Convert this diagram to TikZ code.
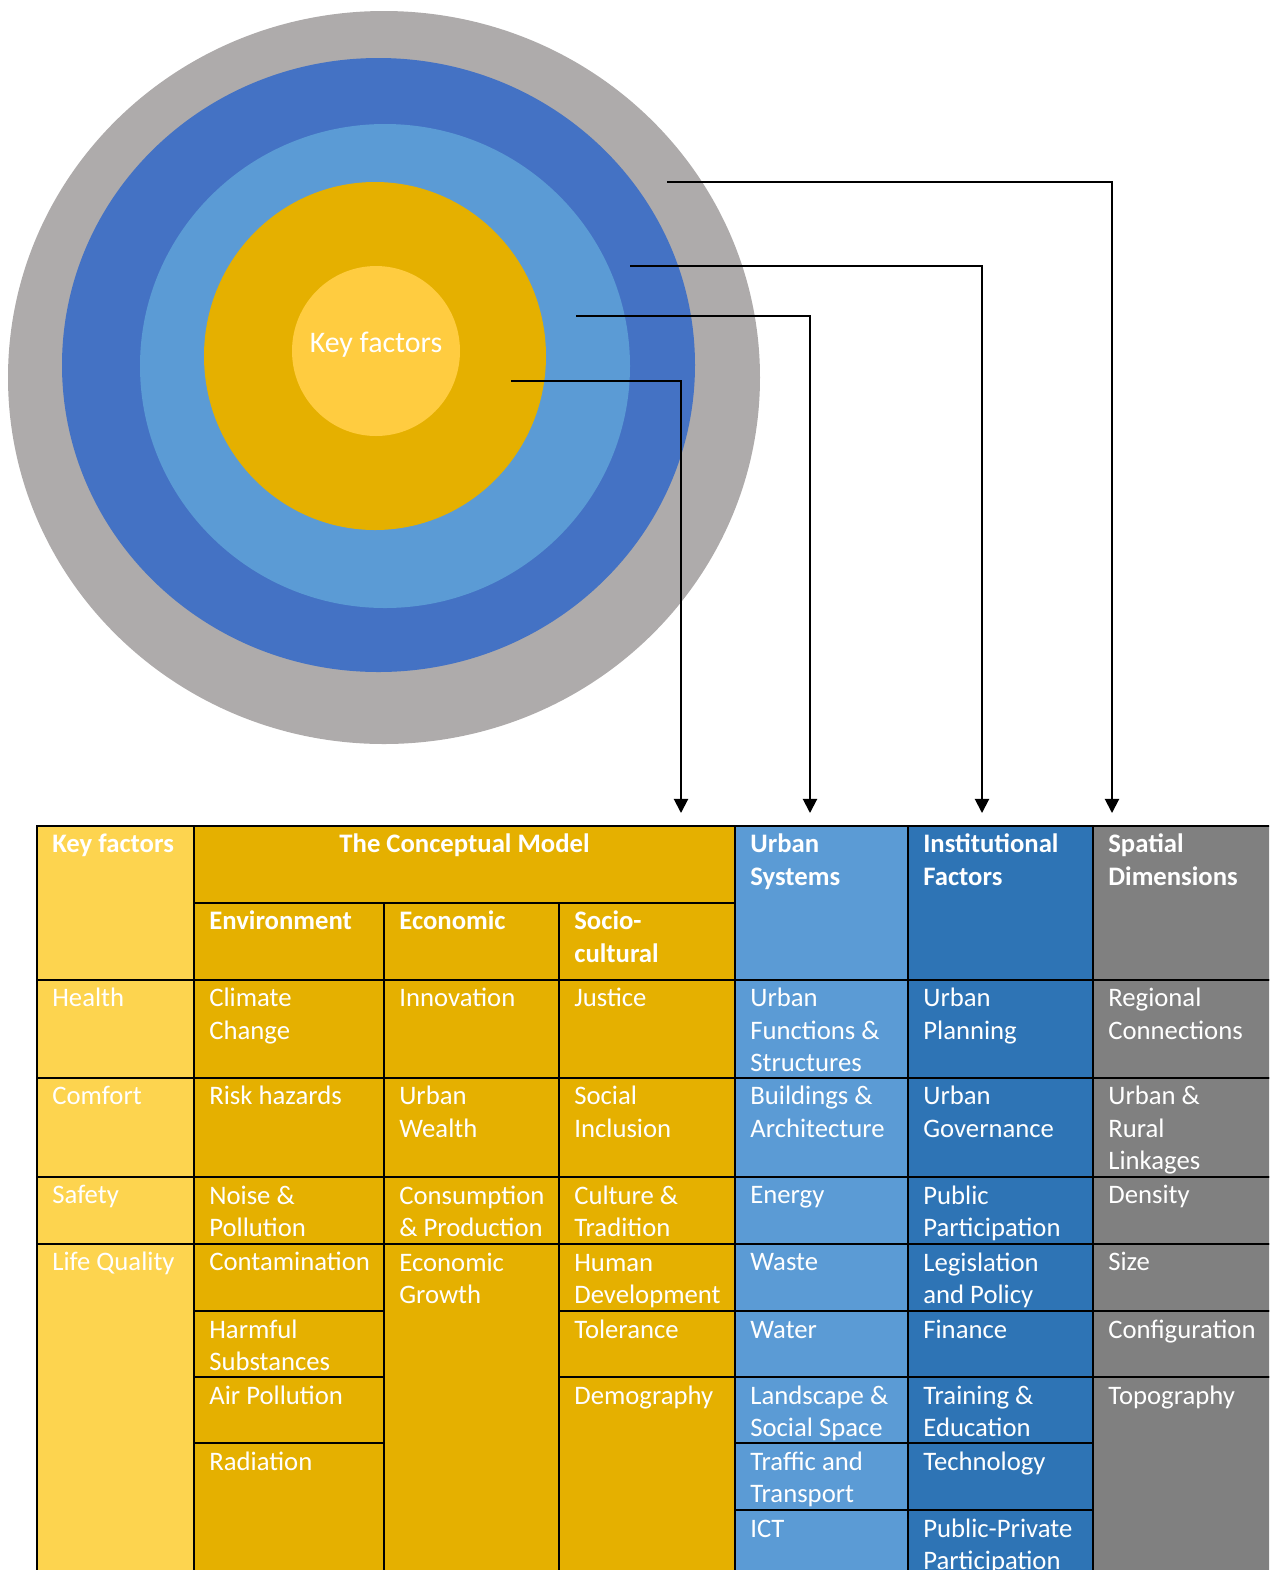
\documentclass[tikz,border=0pt]{standalone}
\usepackage{fontspec}
\setmainfont{Carlito}
\usetikzlibrary{arrows.meta}

\definecolor{ringgrey}{HTML}{AEABAB}
\definecolor{ringdark}{HTML}{4472C4}
\definecolor{ringlight}{HTML}{5B9BD5}
\definecolor{modelgold}{HTML}{E5B000}
\definecolor{coreyellow}{HTML}{FFCC40}
\definecolor{keyyellow}{HTML}{FDD44F}
\definecolor{urbanblue}{HTML}{5B9BD5}
\definecolor{instblue}{HTML}{2E74B5}
\definecolor{spatgrey}{HTML}{808080}

\newcommand{\cellfont}{\fontsize{15.2pt}{18.4pt}\selectfont}

\tikzset{
  cellframe/.style={draw=black, line width=1.3pt},
  celltext/.style={text=white, font=\cellfont, align=left, inner sep=0pt, anchor=north west},
  link/.style={draw=black, line width=1.1pt, -{Triangle[width=8pt,length=8pt]}},
}

% one table cell: name, x1, y1, x2, y2, fill, text
\newcommand{\tcell}[7]{%
  \filldraw[cellframe, fill=#6] (#2,#3) rectangle (#4,#5);
  \node (#1) [celltext] at (#2+15,#3+4) {\strut #7};}

\begin{document}
\begin{tikzpicture}[x=0.02cm, y=-0.02cm]

    \clip (0,0) rectangle (1269,1570);

    % rings
    \fill[ringgrey] (384,377.5) ellipse [x radius=376, y radius=366.5];
    \fill[ringdark] (378.5,365) ellipse [x radius=316.5, y radius=307];
    \fill[ringlight] (385,366) ellipse [x radius=245, y radius=242];
    \fill[modelgold] (375,356) ellipse [x radius=171, y radius=174];
    \fill[coreyellow] (376,351) ellipse [x radius=84, y radius=85];
    \node(core)[text=white, font=\fontsize{17pt}{20pt}\selectfont] at (376,345) {Key factors};

    \coordinate(model-ring) at (511,381);
    \coordinate(urban-ring) at (576,316);
    \coordinate(inst-ring) at (630,266);
    \coordinate(spat-ring) at (667,182);

    \coordinate(model-in) at (681,813);
    \coordinate(urban-in) at (810,813);
    \coordinate(inst-in) at (982,813);
    \coordinate(spat-in) at (1112,813);

    \draw[link] (model-ring) -| (model-in);
    \draw[link] (urban-ring) -| (urban-in);
    \draw[link] (inst-ring) -| (inst-in);
    \draw[link] (spat-ring) -| (spat-in);

    % key factors
    \tcell{kf-head}{37}{826}{194}{980}{keyyellow}{\textbf{Key factors}}
    \tcell{kf-1}{37}{980}{194}{1078}{keyyellow}{Health}
    \tcell{kf-2}{37}{1078}{194}{1177}{keyyellow}{Comfort}
    \tcell{kf-3}{37}{1177}{194}{1244}{keyyellow}{Safety}
    \tcell{kf-4}{37}{1244}{194}{1580}{keyyellow}{Life Quality}

    % conceptual model
    \filldraw[cellframe, fill=modelgold] (194,826) rectangle (735,903);
    \node(model-head)[celltext, anchor=north] at (464.5,830) {\strut\textbf{The Conceptual Model}};
    \tcell{env-head}{194}{903}{384}{980}{modelgold}{\textbf{Environment}}
    \tcell{eco-head}{384}{903}{559}{980}{modelgold}{\textbf{Economic}}
    \tcell{soc-head}{559}{903}{735}{980}{modelgold}{\textbf{Socio-}\\\textbf{cultural}}

    \tcell{env-1}{194}{980}{384}{1078}{modelgold}{Climate\\Change}
    \tcell{env-2}{194}{1078}{384}{1177}{modelgold}{Risk hazards}
    \tcell{env-3}{194}{1177}{384}{1244}{modelgold}{Noise \&\\Pollution}
    \tcell{env-4}{194}{1244}{384}{1311}{modelgold}{Contamination}
    \tcell{env-5}{194}{1311}{384}{1377}{modelgold}{Harmful\\Substances}
    \tcell{env-6}{194}{1377}{384}{1443}{modelgold}{Air Pollution}
    \tcell{env-7}{194}{1443}{384}{1580}{modelgold}{Radiation}

    \tcell{eco-1}{384}{980}{559}{1078}{modelgold}{Innovation}
    \tcell{eco-2}{384}{1078}{559}{1177}{modelgold}{Urban\\Wealth}
    \tcell{eco-3}{384}{1177}{559}{1244}{modelgold}{Consumption\\\& Production}
    \tcell{eco-4}{384}{1244}{559}{1580}{modelgold}{Economic\\Growth}

    \tcell{soc-1}{559}{980}{735}{1078}{modelgold}{Justice}
    \tcell{soc-2}{559}{1078}{735}{1177}{modelgold}{Social\\Inclusion}
    \tcell{soc-3}{559}{1177}{735}{1244}{modelgold}{Culture \&\\Tradition}
    \tcell{soc-4}{559}{1244}{735}{1311}{modelgold}{Human\\Development}
    \tcell{soc-5}{559}{1311}{735}{1377}{modelgold}{Tolerance}
    \tcell{soc-6}{559}{1377}{735}{1580}{modelgold}{Demography}

    % urban systems
    \tcell{urban-head}{735}{826}{908}{980}{urbanblue}{\textbf{Urban}\\\textbf{Systems}}
    \tcell{urban-1}{735}{980}{908}{1078}{urbanblue}{Urban\\Functions \&\\Structures}
    \tcell{urban-2}{735}{1078}{908}{1177}{urbanblue}{Buildings \&\\Architecture}
    \tcell{urban-3}{735}{1177}{908}{1244}{urbanblue}{Energy}
    \tcell{urban-4}{735}{1244}{908}{1311}{urbanblue}{Waste}
    \tcell{urban-5}{735}{1311}{908}{1377}{urbanblue}{Water}
    \tcell{urban-6}{735}{1377}{908}{1443}{urbanblue}{Landscape \&\\Social Space}
    \tcell{urban-7}{735}{1443}{908}{1510}{urbanblue}{Traffic and\\Transport}
    \tcell{urban-8}{735}{1510}{908}{1580}{urbanblue}{ICT}

    % institutional factors
    \tcell{inst-head}{908}{826}{1093}{980}{instblue}{\textbf{Institutional}\\\textbf{Factors}}
    \tcell{inst-1}{908}{980}{1093}{1078}{instblue}{Urban\\Planning}
    \tcell{inst-2}{908}{1078}{1093}{1177}{instblue}{Urban\\Governance}
    \tcell{inst-3}{908}{1177}{1093}{1244}{instblue}{Public\\Participation}
    \tcell{inst-4}{908}{1244}{1093}{1311}{instblue}{Legislation\\and Policy}
    \tcell{inst-5}{908}{1311}{1093}{1377}{instblue}{Finance}
    \tcell{inst-6}{908}{1377}{1093}{1443}{instblue}{Training \&\\Education}
    \tcell{inst-7}{908}{1443}{1093}{1510}{instblue}{Technology}
    \tcell{inst-8}{908}{1510}{1093}{1580}{instblue}{Public-Private\\Participation}

    % spatial dimensions
    \tcell{spat-head}{1093}{826}{1285}{980}{spatgrey}{\textbf{Spatial}\\\textbf{Dimensions}}
    \tcell{spat-1}{1093}{980}{1285}{1078}{spatgrey}{Regional\\Connections}
    \tcell{spat-2}{1093}{1078}{1285}{1177}{spatgrey}{Urban \&\\Rural\\Linkages}
    \tcell{spat-3}{1093}{1177}{1285}{1244}{spatgrey}{Density}
    \tcell{spat-4}{1093}{1244}{1285}{1311}{spatgrey}{Size}
    \tcell{spat-5}{1093}{1311}{1285}{1377}{spatgrey}{Configuration}
    \tcell{spat-6}{1093}{1377}{1285}{1580}{spatgrey}{Topography}

\end{tikzpicture}
\end{document}
